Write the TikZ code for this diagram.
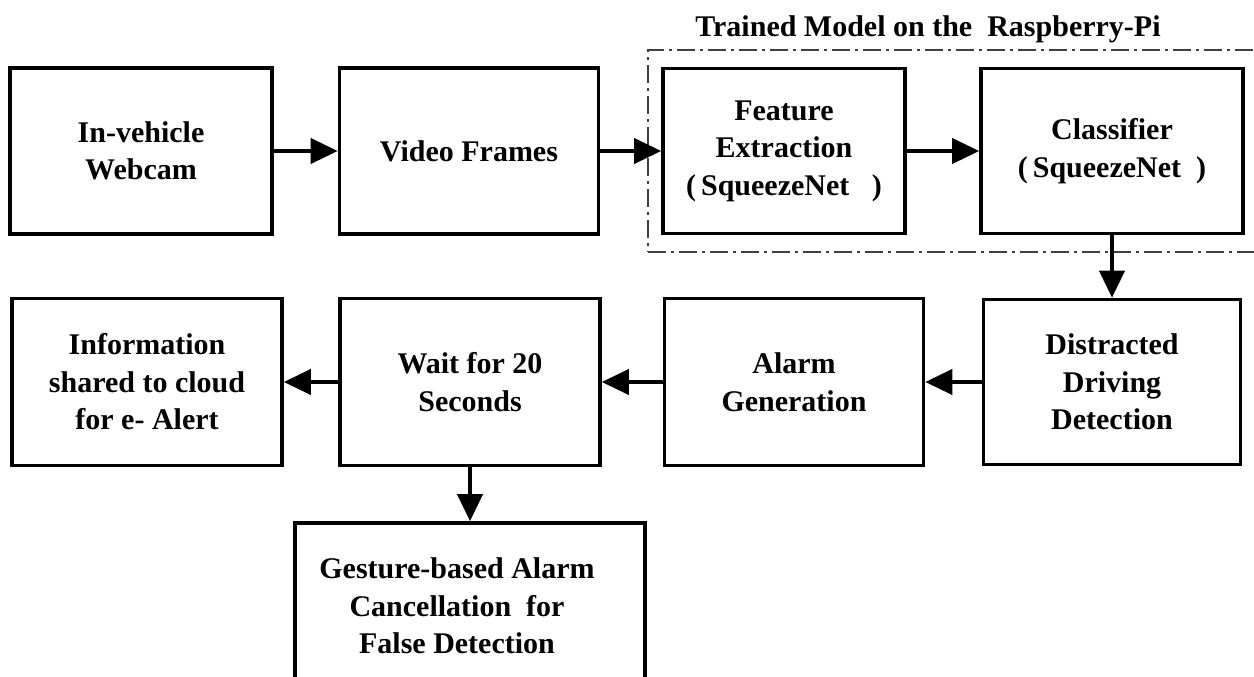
\documentclass[tikz,border=0pt]{standalone}
\usepackage{fontspec}
\setmainfont{Liberation Serif}
\usetikzlibrary{arrows.meta}
\begin{document}
\begin{tikzpicture}[x=1pt,y=-1pt,
  blk/.style={draw=black,line width=3.6pt,fill=white,rectangle,inner sep=0pt,
    align=center,font=\fontsize{30}{37.5}\selectfont\bfseries},
  lbl/.style={align=center,inner sep=0pt,font=\fontsize{30}{37.5}\selectfont\bfseries},
  arr/.style={line width=3.8pt,-{Triangle[length=27pt,width=25pt]}},
  grpbox/.style={draw=black!75,line width=1.6pt,dash pattern=on 18pt off 5pt on 3pt off 5pt,
    rectangle,inner sep=0pt}]
\useasboundingbox (0,0) rectangle (1254,677);
\fill[white] (0,0) rectangle (1254,677);
% group frame
\node[grpbox,minimum width=620pt,minimum height=202pt] (grp) at (958,151) {};
\node[lbl] (title) at (928,29) {Trained Model on the\ \ Raspberry-Pi};
% row 1
\node[blk,minimum width=262pt,minimum height=166pt] (cam) at (141,151) {In-vehicle\\Webcam};
\node[blk,minimum width=259pt,minimum height=166pt] (vid) at (469,151) {Video Frames};
\node[blk,minimum width=242pt,minimum height=165pt] (feat) at (784,151) {Feature\\Extraction\\(\,SqueezeNet\ \ \ )};
\node[blk,minimum width=262pt,minimum height=165pt] (cls) at (1112,151) {Classifier\\(\,SqueezeNet\ \ )};
% row 2
\node[blk,minimum width=257pt,minimum height=165pt] (dist) at (1112,382) {Distracted\\Driving\\Detection};
\node[blk,minimum width=259pt,minimum height=167pt] (alarm) at (794,382) {Alarm\\Generation};
\node[blk,minimum width=260pt,minimum height=167pt] (wait) at (470,382) {Wait for 20\\Seconds};
\node[blk,minimum width=270pt,minimum height=167pt] (info) at (147,382) {Information\\shared to cloud\\for e- Alert};
% row 3
\node[blk,minimum width=350pt,minimum height=170pt] (gest) at (470,608) {};
\node[lbl] (gesttxt) at (457,606) {Gesture-based Alarm\\Cancellation\ \ for\\False Detection};
% connectors
\draw[arr] (cam) -- (vid);
\draw[arr] (vid) -- (feat);
\draw[arr] (feat) -- (cls);
\draw[arr] (cls) -- (dist);
\draw[arr] (dist) -- (alarm);
\draw[arr] (alarm) -- (wait);
\draw[arr] (wait) -- (info);
\draw[arr] (wait) -- (gest);
\end{tikzpicture}
\end{document}
